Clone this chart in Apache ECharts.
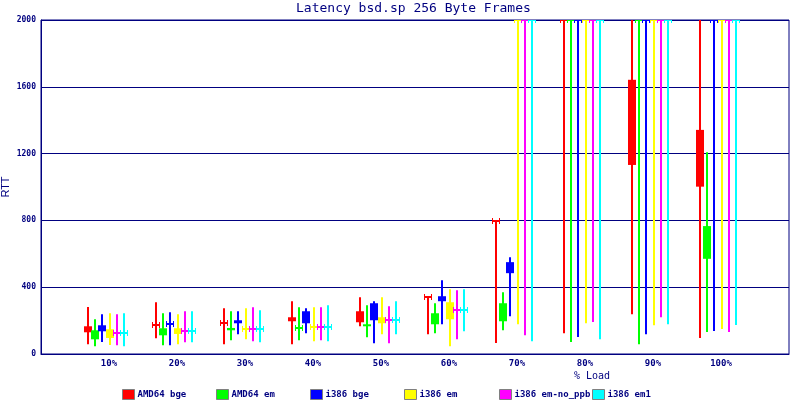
<!DOCTYPE html>
<html>
<head>
<meta charset="utf-8">
<script src="https://cdn.jsdelivr.net/npm/echarts@6/dist/echarts.min.js"></script>
<style>html,body{margin:0;padding:0;background:#fff}#c{width:800px;height:400px}</style>
</head>
<body>
<div id="c"></div>
<script>
// Categories (x axis) and tick labels
var categories = ['10%', '20%', '30%', '40%', '50%', '60%', '70%', '80%', '90%', '100%'];
var yTicks = [0, 400, 800, 1200, 1600, 2000];
var seriesNames = ['AMD64 bge', 'AMD64 em', 'i386 bge', 'i386 em', 'i386 em-no_ppb', 'i386 em1'];
var seriesColors = ['#ff0000', '#00ff00', '#0000ff', '#ffff00', '#ff00ff', '#00ffff'];

// Each row: [min, boxLow, boxHigh, max] per load level (values above 2000 are off-scale, shown at 2000)
var amd64Bge = [
  [58, 130, 166, 282], [94, 172, 172, 310], [58, 188, 188, 274], [58, 196, 220, 316],
  [166, 190, 256, 340], [118, 340, 340, 340], [66, 795, 795, 795], [124, 2000, 2000, 2000],
  [238, 1132, 1642, 2000], [96, 1002, 1342, 2000]
];
var amd64Em = [
  [46, 88, 142, 208], [52, 112, 154, 244], [82, 142, 156, 256], [82, 158, 158, 280],
  [100, 166, 178, 292], [124, 178, 244, 304], [142, 196, 304, 370], [72, 2000, 2000, 2000],
  [58, 2000, 2000, 2000], [132, 570, 766, 1208]
];
var i386Bge = [
  [72, 136, 172, 238], [52, 178, 178, 250], [118, 184, 202, 256], [124, 184, 256, 274],
  [64, 202, 304, 316], [178, 316, 346, 442], [226, 484, 550, 580], [102, 2000, 2000, 2000],
  [118, 2000, 2000, 2000], [138, 2000, 2000, 2000]
];
var i386Em = [
  [54, 96, 148, 244], [58, 120, 154, 238], [88, 152, 152, 274], [76, 164, 164, 280],
  [118, 184, 220, 340], [46, 208, 310, 388], [178, 2000, 2000, 2000], [184, 2000, 2000, 2000],
  [172, 2000, 2000, 2000], [150, 2000, 2000, 2000]
];
var i386EmNoPpb = [
  [52, 124, 124, 238], [70, 140, 140, 256], [76, 152, 152, 280], [82, 164, 164, 280],
  [64, 202, 202, 286], [88, 262, 262, 382], [112, 2000, 2000, 2000], [192, 2000, 2000, 2000],
  [220, 2000, 2000, 2000], [132, 2000, 2000, 2000]
];
var i386Em1 = [
  [46, 124, 124, 244], [70, 140, 140, 256], [70, 152, 152, 262], [76, 164, 164, 292],
  [118, 202, 202, 316], [136, 262, 262, 388], [76, 2000, 2000, 2000], [88, 2000, 2000, 2000],
  [178, 2000, 2000, 2000], [174, 2000, 2000, 2000]
];
var allSeries = [amd64Bge, amd64Em, i386Bge, i386Em, i386EmNoPpb, i386Em1];

var NAVY = '#000080';
var MONO = '"DejaVu Sans Mono", "Liberation Mono", monospace';

function renderItem(params, api) {
  var si = params.seriesIndex;
  var color = seriesColors[si];
  var cat = api.value(0);
  var base = api.coord([cat, 0]);
  var x = Math.round(base[0] - 21 + 7.2 * si);
  var yMin = api.coord([cat, api.value(1)])[1];
  var yLo = api.coord([cat, api.value(2)])[1];
  var yHi = api.coord([cat, api.value(3)])[1];
  var yMax = api.coord([cat, api.value(4)])[1];
  var children = [{
    type: 'line',
    shape: { x1: x, y1: yMax, x2: x, y2: yMin },
    style: { stroke: color, lineWidth: 2 }
  }];
  if (Math.abs(yLo - yHi) < 0.5) {
    var yc = Math.round(yLo);
    children.push({ type: 'rect', shape: { x: x - 4, y: yc - 1, width: 8, height: 2 }, style: { fill: color } });
    children.push({ type: 'rect', shape: { x: x - 4, y: yc - 3, width: 1, height: 6 }, style: { fill: color } });
    children.push({ type: 'rect', shape: { x: x + 3, y: yc - 3, width: 1, height: 6 }, style: { fill: color } });
  } else {
    children.push({ type: 'rect', shape: { x: x - 4, y: yHi, width: 8, height: yLo - yHi }, style: { fill: color } });
  }
  return { type: 'group', children: children };
}

var series = allSeries.map(function (rows, si) {
  return {
    name: seriesNames[si],
    type: 'custom',
    renderItem: renderItem,
    clip: true,
    itemStyle: { color: seriesColors[si] },
    encode: { x: 0, y: [1, 2, 3, 4] },
    data: rows.map(function (r, ci) { return [ci + 1, r[0], r[1], r[2], r[3]]; })
  };
});

var legendLefts = [122, 216, 310, 404, 499, 592];
var legends = seriesNames.map(function (n, i) {
  return {
    left: legendLefts[i], top: 389, padding: 0,
    itemWidth: 12, itemHeight: 10, itemGap: 4,
    icon: 'rect',
    selectedMode: false,
    textStyle: { color: NAVY, fontFamily: MONO, fontSize: 9, fontWeight: 'bold', padding: [0, 0, 0, -2] },
    data: [{ name: n, itemStyle: { color: seriesColors[i], borderColor: '#808080', borderWidth: 1 } }]
  };
});

var chart = echarts.init(document.getElementById('c'), null, { renderer: 'canvas' });
chart.setOption({
  animation: false,
  backgroundColor: '#ffffff',
  title: [
    { text: 'Latency bsd.sp 256 Byte Frames', left: 296, top: 2, padding: 0,
      textStyle: { color: NAVY, fontFamily: MONO, fontSize: 13, fontWeight: 'normal' } },
    { text: '% Load', left: 574, top: 371, padding: 0,
      textStyle: { color: NAVY, fontFamily: MONO, fontSize: 10, fontWeight: 'normal' } }
  ],
  legend: legends,
  grid: { left: 41, right: 11, top: 20, bottom: 46, show: true, borderColor: NAVY, borderWidth: 1,
          backgroundColor: 'transparent', outerBoundsMode: 'none', containLabel: false },
  xAxis: {
    type: 'value', min: 0, max: categories.length + 1, interval: 1,
    axisLine: { show: true, lineStyle: { color: NAVY, width: 1 } },
    axisTick: { show: false },
    splitLine: { show: false },
    axisLabel: {
      color: NAVY, fontFamily: MONO, fontSize: 9, fontWeight: 'bold', margin: 5,
      formatter: function (v) { return categories[v - 1] || ''; }
    }
  },
  yAxis: {
    type: 'value', min: yTicks[0], max: yTicks[yTicks.length - 1], interval: yTicks[1] - yTicks[0],
    name: 'RTT', nameLocation: 'middle', nameGap: 30, nameRotate: 90, nameMoveOverlap: false,
    nameTextStyle: { color: NAVY, fontFamily: '"Liberation Sans", Arial, sans-serif', fontSize: 11 },
    axisLine: { show: true, lineStyle: { color: NAVY, width: 1 } },
    axisTick: { show: false },
    splitLine: { show: true, lineStyle: { color: NAVY, width: 1 } },
    axisLabel: { color: NAVY, fontFamily: MONO, fontSize: 8, fontWeight: 'bold', margin: 5,
                 formatter: function (v) { return String(v); } }
  },
  series: series
});
</script>
</body>
</html>
